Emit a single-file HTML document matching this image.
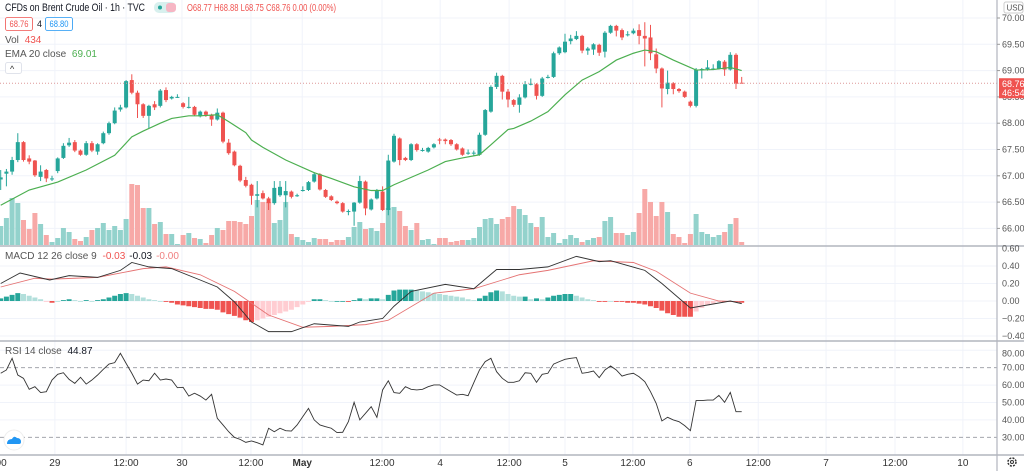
<!DOCTYPE html>
<html><head><meta charset="utf-8"><style>
html,body{margin:0;padding:0;background:#fff;width:1024px;height:471px;overflow:hidden;font-family:"Liberation Sans",sans-serif}
svg text{font-family:"Liberation Sans",sans-serif}
</style></head><body>
<svg id="chart" width="1024" height="471" xmlns="http://www.w3.org/2000/svg">
<g id="grid"></g>
<g id="vol"></g>
<g id="candles"></g>
<g id="ema"></g>
<g id="macdg"></g>
<g id="rsig"></g>
<g id="axes"></g>
<g font-size="11">
<text x="5" y="11" fill="#131722" font-size="11" textLength="140" lengthAdjust="spacingAndGlyphs">CFDs on Brent Crude Oil · 1h · TVC</text>
<rect x="154" y="2" width="22" height="11" rx="5" fill="#d8f0ee"/>
<circle cx="160" cy="7.5" r="2" fill="#26a69a"/>
<rect x="166" y="3" width="10" height="9" rx="3" fill="#f6b6c4"/>
<text x="187" y="11" fill="#ef5350" font-size="10" textLength="149" lengthAdjust="spacingAndGlyphs">O68.77 H68.88 L68.75 C68.76 0.00 (0.00%)</text>
<rect x="5.5" y="17.5" width="27" height="13" rx="2" fill="#fff" stroke="#ef5350" stroke-width="0.8"/>
<text x="9.5" y="27" fill="#ef5350" font-size="9" textLength="19" lengthAdjust="spacingAndGlyphs">68.76</text>
<text x="37" y="27" fill="#131722" font-size="9">4</text>
<rect x="45.5" y="17.5" width="27" height="13" rx="2" fill="#fff" stroke="#2196f3" stroke-width="0.8"/>
<text x="49.5" y="27" fill="#2196f3" font-size="9" textLength="19" lengthAdjust="spacingAndGlyphs">68.80</text>
<text x="5" y="43" fill="#555" font-size="10">Vol <tspan fill="#ef5350" dx="3">434</tspan></text>
<text x="5" y="57" fill="#555" font-size="10">EMA 20 close <tspan fill="#4caf50" dx="3">69.01</tspan></text>
<rect x="5.5" y="62.5" width="16" height="11" rx="2" fill="#fff" stroke="#e0e3eb"/>
<text x="10" y="72" fill="#333" font-size="9">^</text>
<text x="5" y="259" fill="#555" font-size="10">MACD 12 26 close 9 <tspan fill="#ef5350" dx="3">-0.03</tspan><tspan fill="#131722" dx="4">-0.03</tspan><tspan fill="#f08080" dx="4">-0.00</tspan></text>
<text x="5" y="354" fill="#555" font-size="10">RSI 14 close <tspan fill="#131722" dx="3">44.87</tspan></text>
</g>
<g>
<circle cx="14" cy="440" r="10" fill="#fff" stroke="#eee"/>
<path d="M7 444 q0-5 5-5 q2-4 5-1 q4 0 4 4 q0 2-2 2 z" fill="#2196f3"/>
</g>
<g>
<circle cx="1012" cy="462" r="4" fill="none" stroke="#333" stroke-width="1.5" stroke-dasharray="2 1.2"/>
<circle cx="1012" cy="462" r="1.5" fill="none" stroke="#333"/>
</g>
</svg>
<script>
const ohlc=[[66.93,67.11,66.73,66.97],[67.04,67.13,66.80,67.08],[67.08,67.36,67.02,67.30],[67.30,67.81,67.26,67.64],[67.64,67.66,67.27,67.30],[67.33,67.39,67.22,67.27],[67.29,67.30,66.98,67.01],[66.98,67.20,66.90,67.08],[67.11,67.13,66.88,66.95],[66.94,67.00,66.90,66.95],
[67.09,67.35,67.05,67.33],[67.34,67.62,67.32,67.57],[67.58,67.72,67.55,67.63],[67.64,67.68,67.45,67.48],[67.48,67.50,67.38,67.40],[67.40,67.66,67.38,67.62],[67.62,67.66,67.45,67.48],[67.46,67.62,67.40,67.60],[67.62,67.84,67.60,67.81],[67.81,68.03,67.78,68.00],
[68.00,68.30,67.98,68.24],[68.26,68.35,68.22,68.30],[68.30,68.82,68.28,68.80],[68.82,68.93,68.55,68.58],[68.58,68.62,68.10,68.36],[68.36,68.38,68.10,68.14],[68.14,68.35,67.90,68.33],[68.36,68.42,68.25,68.30],[68.33,68.65,68.30,68.62],[68.63,68.68,68.40,68.44],
[68.47,68.52,68.45,68.50],[68.49,68.55,68.48,68.50],[68.38,68.40,68.28,68.31],[68.30,68.50,68.28,68.31],[68.31,68.33,68.14,68.16],[68.13,68.24,68.11,68.22],[68.22,68.24,68.12,68.16],[68.16,68.18,67.95,68.07],[68.07,68.28,68.05,68.20],[68.20,68.22,67.62,67.65],
[67.63,67.70,67.40,67.43],[67.46,67.48,67.18,67.20],[67.19,67.21,66.88,66.91],[66.92,66.98,66.78,66.81],[66.83,66.85,66.45,66.62],[66.62,66.90,66.40,66.65],[66.67,66.72,66.55,66.57],[66.57,66.60,66.35,66.48],[66.48,66.90,66.45,66.77],[66.63,66.90,66.60,66.79],
[66.63,66.90,66.40,66.71],[66.70,66.72,66.57,66.60],[66.62,66.66,66.60,66.63],[66.72,66.80,66.70,66.73],[66.73,66.90,66.71,66.88],[66.89,67.07,66.87,67.03],[67.03,67.05,66.72,66.74],[66.73,66.75,66.58,66.60],[66.61,66.63,66.52,66.54],[66.51,66.53,66.46,66.48],
[66.48,66.50,66.30,66.32],[66.33,66.36,66.25,66.33],[66.32,66.50,66.05,66.49],[66.49,67.00,66.47,66.90],[66.89,66.91,66.25,66.38],[66.36,66.57,66.34,66.55],[66.57,66.75,66.55,66.71],[66.70,66.80,66.33,66.35],[66.35,67.40,66.25,67.29],[67.27,67.80,67.25,67.76],
[67.71,67.73,67.20,67.30],[67.34,67.36,67.28,67.30],[67.30,67.62,67.28,67.60],[67.60,67.62,67.46,67.49],[67.49,67.53,67.46,67.49],[67.46,67.55,67.44,67.53],[67.54,67.62,67.52,67.60],[67.69,67.72,67.60,67.67],[67.69,67.71,67.60,67.66],[67.68,67.70,67.57,67.60],
[67.60,67.62,67.48,67.50],[67.52,67.54,67.38,67.40],[67.44,67.50,67.40,67.44],[67.44,67.48,67.38,67.44],[67.40,67.82,67.38,67.78],[67.78,68.27,67.76,68.25],[68.22,68.72,68.20,68.69],[68.69,68.96,68.65,68.90],[68.90,68.92,68.45,68.60],[68.60,68.65,68.30,68.45],
[68.44,68.46,68.31,68.35],[68.35,68.55,68.20,68.49],[68.49,68.80,68.47,68.74],[68.74,68.85,68.72,68.75],[68.74,68.76,68.45,68.52],[68.52,68.88,68.50,68.85],[68.87,68.92,68.85,68.88],[68.88,69.36,68.86,69.33],[69.33,69.46,69.30,69.44],[69.35,69.70,69.33,69.55],
[69.56,69.68,69.50,69.61],[69.60,69.75,69.58,69.66],[69.66,69.68,69.33,69.38],[69.38,69.45,69.30,69.42],[69.40,69.52,69.30,69.50],[69.49,69.51,69.28,69.34],[69.36,69.75,69.25,69.72],[69.72,69.87,69.70,69.85],[69.85,69.87,69.65,69.76],[69.77,69.80,69.58,69.63],
[69.69,69.75,69.65,69.69],[69.71,69.80,69.69,69.76],[69.77,69.88,69.50,69.66],[69.66,69.92,69.08,69.61],[69.63,69.87,69.20,69.33],[69.31,69.42,68.95,69.04],[69.04,69.06,68.30,68.66],[68.65,69.00,68.55,68.77],[68.76,68.78,68.55,68.65],[68.65,68.67,68.58,68.61],
[68.60,68.62,68.48,68.50],[68.41,68.43,68.30,68.33],[68.33,69.05,68.30,69.02],[69.01,69.05,68.85,69.03],[69.03,69.20,69.00,69.06],[69.04,69.12,69.01,69.04],[69.04,69.20,69.02,69.18],[69.17,69.20,68.90,69.02],[69.02,69.35,69.00,69.30],[69.30,69.33,68.65,68.75],
[68.77,68.88,68.75,68.76]];
const volumes=[19,27,47,42,25,16,32,21,10,3,7,17,13,6,4,8,15,17,22,15,19,15,26,61,60,37,37,21,23,11,11,1,10,12,7,6,2,10,17,15,24,24,23,21,29,45,43,43,22,25,43,11,8,5,3,7,6,6,3,5,5,8,18,23,16,17,14,22,37,38,34,19,15,22,5,6,1,7,7,3,4,5,5,7,18,26,27,21,26,28,39,36,30,22,18,28,8,12,2,6,10,7,3,5,7,8,24,28,12,12,10,13,32,56,43,29,43,33,11,8,2,11,31,13,11,8,10,13,21,27,3];
const emaIdx=[0,5,10,15,20,23,25,28,30,33,35,38,40,43,44,46,50,55,58,62,65,67,69,72,75,78,81,84,86,89,90,93,96,99,102,105,108,111,113,115,118,122,125,128,130];
const emaVals=[66.44,66.73,66.88,67.11,67.39,67.74,67.85,68.0,68.09,68.14,68.14,68.16,68.03,67.82,67.68,67.54,67.30,67.06,66.95,66.79,66.72,66.72,66.83,66.97,67.11,67.27,67.34,67.40,67.59,67.88,67.90,68.04,68.22,68.54,68.82,68.98,69.2,69.33,69.39,69.36,69.2,69.01,69.02,69.06,69.0];
const macdIdx=[0,3.4,8.6,12,17,21,23,26,30,35,38,41,44,47,51,55,61,63,67,69,72,78,83,87,91,96,101,105,107,113,116,121,128,130];
const macdVals=[0.20,0.32,0.24,0.29,0.27,0.35,0.44,0.39,0.37,0.24,0.16,-0.01,-0.24,-0.35,-0.35,-0.26,-0.29,-0.24,-0.20,-0.06,0.11,0.19,0.14,0.36,0.36,0.39,0.51,0.45,0.46,0.35,0.20,-0.08,0.0,-0.03];
const signalIdx=[0,6,9,17,25,29,35,41,47,53,58,64,68,76,83,88,91,96,104,111,115,121,126,130];
const signalVals=[0.16,0.26,0.25,0.27,0.37,0.39,0.30,0.11,-0.16,-0.30,-0.29,-0.27,-0.22,0.09,0.14,0.24,0.30,0.35,0.46,0.44,0.34,0.09,0.0,-0.01];
const histVals=[0.03,0.05,0.07,0.09,0.08,0.06,0.04,0.02,-0.01,-0.02,0.0,0.01,0.02,0.01,0.0,0.01,0.0,0.01,0.02,0.04,0.06,0.08,0.09,0.08,0.06,0.04,0.02,0.01,0.0,-0.01,-0.02,-0.04,-0.05,-0.06,-0.07,-0.08,-0.09,-0.09,-0.1,-0.13,-0.15,-0.17,-0.19,-0.22,-0.24,-0.22,-0.2,-0.18,-0.16,-0.14,-0.12,-0.1,-0.07,-0.04,-0.01,0.02,0.02,0.01,0.0,0.0,0.0,-0.01,0.01,0.03,0.02,0.03,0.03,0.02,0.07,0.12,0.13,0.13,0.13,0.12,0.11,0.1,0.09,0.08,0.07,0.06,0.05,0.04,0.02,0.01,0.03,0.06,0.1,0.12,0.11,0.08,0.06,0.05,0.05,0.02,0.03,0.02,0.04,0.06,0.07,0.08,0.08,0.06,0.04,0.02,0.01,-0.01,-0.01,0.0,-0.01,-0.01,-0.02,-0.02,-0.03,-0.04,-0.06,-0.08,-0.11,-0.14,-0.16,-0.18,-0.18,-0.18,-0.12,-0.08,-0.05,-0.03,-0.01,-0.01,0.0,-0.01,-0.02];
const rsiVals=[66.8,68.7,75.4,65.8,63.9,57.6,59.1,55.7,56.2,62.9,66.2,67.1,63.3,61.0,64.5,60.6,62.9,65.8,69.1,72.1,72.9,78.3,72.5,66.8,60.6,62.9,62.5,66.8,62.9,63.5,62.9,58.5,58.7,53.7,55.3,53.7,51.4,54.7,40.9,37.1,33.2,30.0,28.8,27.1,27.9,26.9,25.6,35.2,33.2,35.2,33.8,33.6,37.1,41.9,46.6,40.0,37.1,36.1,35.2,32.7,32.9,39.0,50.1,40.0,43.8,47.6,41.5,57.2,62.5,55.7,55.3,59.1,57.6,57.2,57.6,59.1,60.1,60.1,58.1,56.2,54.3,54.7,53.9,61.4,68.7,73.5,75.4,67.7,63.9,61.6,61.6,62.5,67.1,66.8,61.6,66.2,66.8,72.1,73.5,74.8,75.4,75.8,66.8,67.3,68.1,64.3,68.7,71.0,68.7,65.2,66.2,66.8,64.8,62.0,56.2,49.5,39.4,41.5,40.0,39.0,36.7,33.8,51.1,51.1,51.4,51.4,54.1,50.1,55.8,44.7,44.7];
const priceTicks=[70,69.5,69,68.5,68,67.5,67,66.5,66];
const macdTicks=[0.6,0.4,0.2,0,-0.2,-0.4];
const rsiTicks=[80,70,60,50,40,30];
const timeTickIdx=[-1.15,9.5,22,31.8,43.9,52.9,66.9,77.1,89.2,99,110.9,120.9,132.9,144.8,156.9,168.8];
const timeTickLabels=["12:00","29","12:00","30","12:00","May","12:00","4","12:00","5","12:00","6","12:00","7","12:00","10"];
const lastPrice=68.76;

const NS="http://www.w3.org/2000/svg";
const PW=997;
const xi=i=>0.7+i*5.7;
const yp=p=>18+(70-p)*52.6;
const ym=v=>301-v*87.5;
const yr=v=>367.7+(70-v)*1.74;
function mk(parent,tag,attrs){const e=document.createElementNS(NS,tag);for(const k in attrs)e.setAttribute(k,attrs[k]);document.getElementById(parent).appendChild(e);return e;}
priceTicks.forEach(p=>{const e=mk('grid','line',{x1:0,x2:PW,y1:yp(p),y2:yp(p),stroke:'#f0f3fa'});

});
[0.4,0.2,0,-0.2,-0.4].forEach(v=>{const e=mk('grid','line',{x1:0,x2:PW,y1:ym(v),y2:ym(v),stroke:'#f0f3fa'});

});
[80,60,50,40].forEach(v=>{const e=mk('grid','line',{x1:0,x2:PW,y1:yr(v),y2:yr(v),stroke:'#f0f3fa'});

});
timeTickIdx.forEach(i=>{const x=xi(i);if(x<0)return;const e=mk('grid','line',{x1:x,x2:x,y1:0,y2:455,stroke:'#f0f3fa'});

});
[70,30].forEach(v=>{const e=mk('grid','line',{x1:0,x2:PW,y1:yr(v),y2:yr(v),stroke:'#9598a1','stroke-dasharray':'4 3','stroke-width':0.8});

});
volumes.forEach((v,i)=>{const c=ohlc[i];const up=c[3]>=c[0];
const e=mk('vol','rect',{x:xi(i)-2.5,y:245-v,width:5,height:v,fill:up?'#93d2cc':'#f7a9a7'});

});
ohlc.forEach((c,i)=>{const up=c[3]>=c[0];const col=up?'#26a69a':'#ef5350';const x=xi(i);
const w=mk('candles','line',{x1:x,x2:x,y1:yp(c[1]),y2:yp(c[2]),stroke:col,'stroke-width':1});


const t=yp(Math.max(c[0],c[3])),b=yp(Math.min(c[0],c[3]));
const r=mk('candles','rect',{x:x-2,y:t,width:4,height:Math.max(1,b-t),fill:col});

});
const ep=mk('ema','polyline',{points:emaIdx.map((i,k)=>xi(i)+','+yp(emaVals[k])).join(' '),fill:'none',stroke:'#4caf50','stroke-width':1.2});


const lp=mk('axes','line',{x1:0,x2:PW,y1:yp(lastPrice),y2:yp(lastPrice),stroke:'#d99','stroke-dasharray':'1 2'});


histVals.forEach((v,i)=>{const prev=i?histVals[i-1]:0;const grow=Math.abs(v)>=Math.abs(prev);
const col=v>=0?(grow?'#26a69a':'#b2dfdb'):(grow?'#ef5350':'#ffcdd2');
const y1=ym(Math.max(v,0)),y2=ym(Math.min(v,0));
const e=mk('macdg','rect',{x:xi(i)-2.5,y:y1,width:5,height:Math.max(0.8,y2-y1),fill:col});

});
const sl=mk('macdg','polyline',{points:signalIdx.map((i,k)=>xi(i)+','+ym(signalVals[k])).join(' '),fill:'none',stroke:'#e57373','stroke-width':0.9});


const ml=mk('macdg','polyline',{points:macdIdx.map((i,k)=>xi(i)+','+ym(macdVals[k])).join(' '),fill:'none',stroke:'#333','stroke-width':0.9});


const rl=mk('rsig','polyline',{points:rsiVals.map((v,i)=>xi(i)+','+yr(v)).join(' '),fill:'none',stroke:'#333','stroke-width':0.9});


[[0,246],[0,341],[0,455]].forEach(s=>{const e=mk('axes','line',{x1:0,x2:1024,y1:s[1],y2:s[1],stroke:'#b2b5be','stroke-width':1.5});

});
const ax=mk('axes','line',{x1:PW,x2:PW,y1:0,y2:471,stroke:'#b2b5be','stroke-width':1.2});


function label(txt,x,y,attrs,name){const t=mk('axes','text',Object.assign({x:x,y:y,'font-size':9,fill:'#555'},attrs||{}));t.textContent=txt;

return t;}
priceTicks.forEach(p=>{mk('axes','line',{x1:PW,x2:PW+3,y1:yp(p),y2:yp(p),stroke:'#999'});label(p.toFixed(2),1002,yp(p)+3,{},'price-tick-label');});
macdTicks.forEach(v=>label(v.toFixed(2).replace('-','\u2212'),1002,ym(v)+3,{},'macd-tick-label'));
rsiTicks.forEach(v=>label(v.toFixed(2),1002,v===80?yr(v)+6:yr(v)+3,{},'rsi-tick-label'));
timeTickIdx.forEach((i,k)=>{const t=timeTickLabels[k];label(t,xi(i),466,{'text-anchor':'middle','font-size':10,fill:'#333','font-weight':t==='May'?'bold':'normal'},'time-tick-label');});
const ub=mk('axes','rect',{x:1004,y:2,width:19,height:11,rx:2,fill:'#fff',stroke:'#ccc'});


label('USD',1006.5,10.5,{'font-size':8},'currency-label');
const pb=mk('axes','rect',{x:999,y:yp(lastPrice)-5,width:25,height:20,fill:'#ef5350'});


label(lastPrice.toFixed(2),1002,yp(lastPrice)+4,{fill:'#fff'},'last-price-label');
label('46:54',1002,yp(lastPrice)+13,{fill:'#fff'},'countdown-label');
</script>
</body></html>
